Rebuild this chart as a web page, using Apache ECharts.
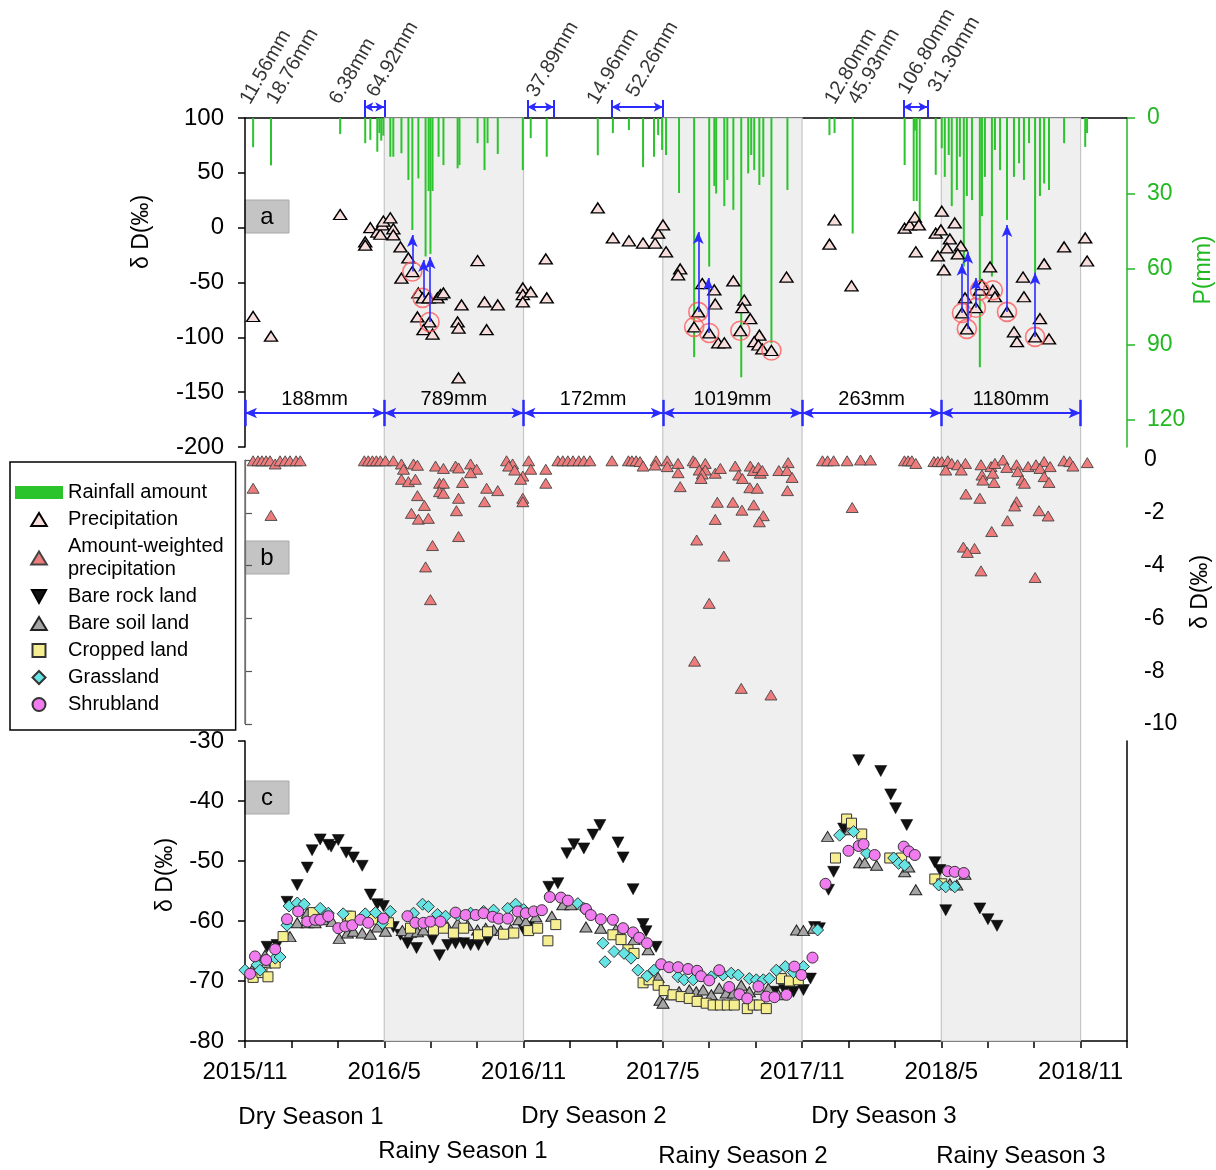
<!DOCTYPE html>
<html lang="en">
<head>
<meta charset="UTF-8">
<title>δD of rainfall and soil water</title>
<script src="https://cdn.jsdelivr.net/npm/echarts@6.0.0/dist/echarts.min.js"></script>
<style>
  html, body { margin: 0; padding: 0; background: #fff; }
  #main { width: 1216px; height: 1170px; }
</style>
</head>
<body>
<div id="main"></div>
<script type="text/javascript">
  // x values are months counted from 2015/11
  var tickLabels = ['2015/11', '2016/5', '2016/11', '2017/5', '2017/11', '2018/5', '2018/11'];
  var rainySeasons = [[6, 12], [18, 24], [30, 36]];
  var seasonBounds = [0, 6, 12, 18, 24, 30, 36];
  var seasonTotals = ['188mm', '789mm', '172mm', '1019mm', '263mm', '1180mm'];

  // daily rainfall [month, mm]
  var rainfall = [
    [0.35, 11.6], [1.12, 18.8], [4.10, 6.4], [5.18, 10], [5.40, 8.7], [5.70, 13.4], [5.79, 6], [5.87, 9], [5.96, 7],
    [6.26, 15.4], [6.39, 15.4], [6.74, 14], [7.04, 24.6], [7.21, 44.5], [7.47, 24], [7.78, 55], [7.91, 29], [7.99, 54],
    [8.08, 29], [8.34, 15.4], [8.55, 18.7], [9.16, 20], [9.24, 18.7], [10.02, 10], [10.32, 20.7], [10.45, 10], [10.89, 14.3],
    [11.97, 20.7], [12.31, 8], [13.0, 15.4], [15.2, 14.8], [15.85, 6], [16.54, 4.8], [17.15, 19.5], [17.62, 15.4],
    [17.80, 6.8], [17.97, 12.7], [18.14, 14.7], [18.70, 29.8], [19.35, 95], [20.0, 59], [20.22, 27], [20.30, 30],
    [20.65, 35], [20.78, 24.6], [21.04, 36.5], [21.38, 103], [21.68, 22], [21.81, 14.7], [21.94, 20.7], [22.16, 26.6],
    [22.33, 23.4], [22.68, 89.5], [23.37, 28.6], [25.18, 6.8], [25.40, 6], [26.18, 45.9], [28.42, 18.7], [28.81, 33],
    [28.86, 5], [28.94, 33], [29.07, 40.5], [29.76, 22.6], [30.02, 12], [30.15, 23.4], [30.32, 14.7], [30.45, 35],
    [30.67, 28.6], [30.80, 15.4], [30.97, 59], [31.10, 31], [31.32, 32.6], [31.66, 99], [31.75, 39], [31.88, 23.4],
    [32.18, 63], [32.31, 12.7], [32.53, 20.7], [32.83, 40.5], [33.13, 23.4], [33.35, 18], [33.56, 24.6], [33.78, 10],
    [34.04, 61.7], [34.25, 31], [34.43, 26], [34.64, 28.6], [35.29, 10], [36.20, 11.5], [36.28, 6]
  ];

  // δD of precipitation (panel a)
  var precipitation = [
    [0.35, -81], [1.12, -99], [4.10, 12], [5.18, -13], [5.18, -16], [5.40, 0], [5.70, -4], [5.83, -6], [5.92, 2.5],
    [5.96, 6], [6.26, 9], [6.39, -1], [6.39, -6.6], [6.70, -17.6], [7.04, -27.6], [7.21, -40], [6.74, -46], [7.47, -59.5],
    [7.65, -64], [7.91, -64], [8.29, -64], [8.42, -61], [8.55, -59.5], [7.43, -81.4], [7.95, -86], [7.69, -93], [8.08, -97],
    [9.33, -70.5], [9.16, -86], [9.20, -91.5], [10.02, -30], [10.32, -67.7], [10.89, -70.5], [10.41, -93], [9.20, -137],
    [11.97, -55], [11.97, -61], [11.97, -67.7], [12.31, -58.6], [12.96, -28.5], [13.0, -64], [15.2, 18], [15.85, -9.4],
    [16.54, -12], [17.15, -14], [17.67, -14], [17.80, -5], [18.01, 2.5], [18.14, -22], [18.75, -37.6], [18.66, -43],
    [19.53, -76.8], [19.35, -90.5], [19.70, -51], [20.22, -56.8], [20.26, -69.6], [20.0, -96], [20.39, -105], [20.65, -105],
    [21.04, -48.6], [21.51, -66], [21.43, -73], [21.77, -83], [21.34, -94], [22.16, -98], [21.94, -104], [22.12, -107],
    [22.29, -110.6], [22.68, -112], [23.33, -45], [25.40, 7], [25.18, -15], [26.13, -53], [28.42, -0.5], [28.64, 2.5],
    [28.86, 9.7], [29.03, 2.5], [28.90, -22], [30.02, 15], [30.58, 4.3], [29.76, -5], [29.98, -2], [30.37, -10.3],
    [30.24, -18.5], [30.84, -16.7], [30.71, -24], [29.85, -25.8], [30.11, -38.5], [32.10, -35.8], [31.02, -64],
    [30.89, -77.8], [31.10, -92.3], [31.49, -73], [31.66, -57], [31.75, -52], [32.22, -57], [32.31, -63], [32.83, -76.8],
    [33.52, -45], [33.56, -63], [34.43, -33], [34.25, -83], [33.13, -95], [33.26, -104], [34.04, -99.6], [34.64, -101.5],
    [35.29, -17.6], [36.20, -9.4], [36.28, -30.4]
  ];

  // precipitation samples that are circled
  var circled = [
    [7.21, -40], [7.65, -64], [7.95, -86], [19.53, -76.8], [19.35, -90.5], [20.0, -96], [21.34, -94], [22.68, -112],
    [30.89, -77.8], [31.10, -92.3], [31.49, -73], [31.66, -57], [32.22, -57], [32.83, -76.8], [34.04, -99.6]
  ];

  // arrows from a circled sample up to its rain event [month, from, to]
  var rainArrows = [
    [7.21, -40, -6.7], [7.69, -64, -29.5], [7.98, -86, -26.7], [19.53, -76.8, -4], [19.96, -96, -46],
    [30.89, -77.8, -33], [31.14, -92.3, -22], [31.49, -73, -46], [32.83, -76.8, 2.5], [34.04, -99.6, -41]
  ];

  // amount-weighted precipitation δD (panel b)
  var weighted = [
    [0.35, -0.03], [0.56, -0.03], [0.73, -0.03], [0.91, -0.03], [1.08, -0.03], [1.30, -0.15], [1.51, -0.03], [1.73, -0.03],
    [1.94, -0.03], [2.20, -0.03], [2.38, -0.03], [5.14, -0.03], [5.31, -0.03], [5.49, -0.03], [5.66, -0.03], [5.83, -0.03],
    [6.05, -0.03], [6.39, -0.03], [6.74, -0.15], [6.83, -0.35], [7.26, -0.15], [7.43, -0.2], [8.21, -0.23], [8.55, -0.32],
    [9.07, -0.23], [9.20, -0.3], [9.72, -0.15], [9.98, -0.35], [9.72, -0.48], [11.27, -0.03], [11.53, -0.15], [11.36, -0.23],
    [11.62, -0.38], [12.22, -0.03], [12.31, -0.35], [11.97, -0.61], [11.88, -0.73], [13.48, -0.03], [13.69, -0.03],
    [13.91, -0.03], [14.13, -0.03], [14.38, -0.03], [14.6, -0.03], [14.86, -0.03], [15.81, -0.03],
    [0.35, -1.07], [1.12, -2.1], [6.74, -0.73], [7.04, -0.82], [7.34, -0.73], [8.38, -0.88], [8.55, -0.88], [9.37, -0.85],
    [12.96, -0.35], [12.96, -0.88], [8.38, -1.2], [8.55, -1.26], [10.41, -1.07], [10.89, -1.16], [7.43, -1.35], [9.2, -1.45],
    [10.32, -1.58], [11.97, -1.45], [11.97, -1.58], [7.73, -1.72], [7.17, -2.02], [7.47, -2.24], [7.9, -2.21], [9.11, -1.92],
    [9.2, -2.9], [8.08, -3.24], [7.78, -4.05], [7.99, -5.29],
    [16.52, -0.03], [16.67, -0.03], [16.85, -0.03], [17.02, -0.06], [17.15, -0.23], [17.71, -0.03], [17.67, -0.19],
    [18.19, -0.03], [18.19, -0.25], [18.66, -0.13], [18.66, -0.48], [18.75, -1.01], [19.31, -0.03], [19.4, -0.1],
    [19.83, -0.13], [19.57, -0.38], [19.83, -0.38], [19.7, -0.53], [19.65, -0.7], [20.26, -0.5], [20.48, -0.32],
    [21.12, -0.23], [21.27, -0.57], [21.43, -0.7], [21.77, -0.23], [21.9, -0.4], [22.12, -0.28], [22.2, -0.5], [22.29, -0.4],
    [21.75, -1.05], [22.07, -1.07], [23.0, -0.4], [23.4, -0.1], [23.35, -0.4], [23.57, -0.66], [23.37, -1.16],
    [20.35, -1.6], [21.02, -1.6], [21.92, -1.7], [21.41, -1.9], [22.33, -2.11], [20.26, -2.25], [22.16, -2.34],
    [19.46, -3.03], [20.63, -3.64], [20.0, -5.43], [19.37, -7.62], [21.38, -8.65], [22.66, -8.9],
    [24.88, -0.03], [25.1, -0.03], [25.36, -0.03], [25.94, -0.03], [26.52, 0], [26.95, 0], [26.16, -1.8],
    [28.41, -0.03], [28.57, -0.03], [28.73, -0.03], [28.9, -0.13], [29.68, -0.06], [29.85, -0.06], [30.02, -0.06],
    [30.28, -0.03], [30.45, -0.13], [30.19, -0.38], [30.7, -0.18], [31.04, -0.13], [30.86, -0.38], [31.71, -0.18],
    [32.14, -0.25], [32.31, -0.13], [32.66, 0], [32.82, -0.28], [33.24, -0.18], [33.74, -0.25], [34.08, -0.18],
    [34.43, -0.06], [34.69, -0.25], [35.28, -0.03], [35.53, -0.06], [35.67, -0.23], [36.29, -0.1],
    [31.75, -0.57], [31.79, -0.76], [32.27, -0.85], [32.22, -0.5], [33.29, -0.44], [33.48, -0.76], [33.58, -0.88],
    [34.25, -0.32], [34.43, -0.63], [34.64, -0.85], [31.06, -1.29], [31.66, -1.45], [33.24, -1.58], [33.16, -1.74],
    [34.21, -1.92], [34.6, -2.12], [32.85, -2.3], [32.17, -2.71], [30.95, -3.3], [31.43, -3.35], [31.12, -3.5],
    [31.71, -4.2], [34.04, -4.45]
  ];

  // soil water δD by land use (panel c)
  var bareRock = [
    [0.95, -64.3], [1.38, -64], [1.81, -56.8], [2.25, -54], [2.68, -51.1], [2.89, -48.2], [3.24, -46.4], [3.59, -47.3],
    [3.71, -47.6], [4.02, -46.5], [4.36, -48.6], [4.67, -49.4], [5.05, -50.8], [5.40, -55.6], [5.70, -57.2], [5.96, -57.5],
    [6.39, -61], [6.70, -62.3], [7.0, -63.7], [7.39, -64.5], [8.08, -63.1], [8.38, -65.7], [8.73, -64], [9.07, -63.7],
    [9.42, -63.7], [9.72, -64], [10.06, -64], [10.45, -63.2], [12.01, -61.5], [12.22, -61], [13.09, -54.3], [13.48, -53.7],
    [13.87, -48.7], [14.17, -47.2], [14.6, -47.9], [14.99, -45.6], [15.29, -44], [16.07, -46.9], [16.29, -49.4],
    [16.72, -54.7], [17.15, -60.5], [17.28, -61.7], [17.71, -64.3], [22.81, -71.8], [23.24, -71.5], [23.63, -71.8],
    [24.06, -71.5], [24.36, -69.6], [24.54, -61], [24.75, -61.2], [25.14, -54.8], [25.36, -51.8], [25.79, -44.6],
    [26.44, -33.2], [27.39, -35], [27.82, -38.9], [28.03, -41.2], [28.51, -44], [29.72, -50.2], [29.94, -51.5],
    [30.19, -58.2], [31.66, -57.9], [32.01, -59.7], [32.4, -60.8]
  ];
  var bareSoil = [
    [0.30, -68.2], [0.86, -67], [0.86, -65.7], [1.38, -65.4], [1.94, -62.6], [2.25, -60.3], [2.68, -60.3], [2.68, -58.7],
    [3.02, -60.3], [3.37, -59.8], [3.76, -60.1], [4.06, -62.9], [4.41, -62], [4.67, -61.7], [5.05, -62], [5.40, -62.2],
    [5.70, -61], [6.05, -61.7], [6.78, -61.6], [7.13, -61.9], [7.43, -61.8], [7.69, -61.5], [8.12, -61], [8.42, -59.6],
    [8.73, -61], [9.16, -60.4], [9.59, -60.7], [10.02, -61.5], [10.37, -61.2], [10.71, -61.5], [11.02, -61.6],
    [11.45, -61.4], [11.79, -59.8], [12.1, -60.1], [12.53, -59.3], [13.22, -59.2], [13.69, -57.3], [14.04, -57.3],
    [14.69, -61], [15.33, -61.2], [15.98, -61.4], [16.76, -63.1], [17.37, -64.8], [17.80, -69.4], [17.88, -73.2],
    [18.01, -73.7], [18.36, -72.3], [18.7, -71.8], [19.14, -71.5], [19.44, -71.8], [19.74, -71.5], [20.09, -72.3],
    [20.43, -71.2], [20.73, -72], [21.04, -72], [21.38, -70.7], [21.73, -71.8], [22.16, -71.4], [22.55, -71.2],
    [22.98, -72.3], [23.76, -61.5], [24.06, -61.6], [24.49, -61.2], [25.1, -45.9], [26.05, -44.8], [26.48, -50.3],
    [26.7, -50.3], [27.21, -50.7], [28.42, -51.8], [28.6, -51], [28.9, -54.8], [30.37, -53.8], [30.67, -54], [31.02, -52.2]
  ];
  var cropped = [
    [0.35, -69.4], [0.73, -68.6], [0.99, -69.3], [1.30, -67], [1.64, -62.6], [2.94, -58.6], [4.41, -59.2], [4.54, -59.2],
    [5.49, -59.7], [6.18, -60.3], [7.13, -61.2], [8.12, -61.5], [8.55, -61.2], [8.98, -62], [9.42, -61.2], [10.06, -62.3],
    [10.45, -61.8], [11.14, -62.2], [11.58, -62], [12.22, -61.6], [12.61, -61.2], [13.05, -63.3], [13.39, -60.6],
    [15.85, -62.3], [16.2, -63.1], [16.5, -64.8], [16.76, -65.4], [17.15, -70.3], [17.41, -69.8], [17.80, -70.7],
    [18.06, -71.6], [18.44, -72.3], [18.79, -72.6], [19.14, -72.9], [19.48, -73.4], [19.87, -73.7], [20.17, -74],
    [20.48, -74], [20.78, -74], [21.08, -74], [21.64, -74.6], [21.9, -74], [22.16, -74], [22.46, -74.6], [23.11, -69.6],
    [23.46, -70], [23.84, -69.8], [25.44, -49.5], [25.92, -43], [26.13, -43.7], [26.57, -45.5], [27.78, -49.5],
    [28.29, -49.5], [29.72, -53], [30.02, -53.8]
  ];
  var grassland = [
    [0, -68.2], [0.52, -67.3], [0.65, -68.2], [1.30, -66.2], [1.51, -66], [1.81, -60.7], [1.9, -57.5], [2.25, -57],
    [2.55, -57.2], [3.24, -57.9], [3.59, -58.7], [4.23, -58.8], [5.18, -58.8], [5.62, -58.6], [5.92, -60.4], [6.26, -58.4],
    [7.26, -58.7], [7.65, -57.2], [7.9, -57.6], [8.29, -58.9], [8.64, -59.2], [9.16, -59], [9.72, -58.7], [10.28, -58.4],
    [10.71, -58.2], [11.32, -57.9], [11.66, -57.2], [12.01, -58.1], [14.34, -57.1], [14.6, -57.9], [15.42, -63.7],
    [15.51, -66.8], [15.9, -65.1], [16.33, -65.4], [16.63, -66.2], [16.93, -68.2], [17.32, -69.2], [17.62, -68.2],
    [18.66, -69.3], [18.92, -69.8], [19.31, -69.8], [20.09, -69.3], [20.6, -69], [20.95, -68.7], [21.25, -69],
    [21.73, -69.6], [22.03, -69.8], [22.33, -69.8], [22.59, -69.6], [22.89, -68.2], [23.28, -67.6], [23.63, -68.6],
    [24.06, -67.6], [24.67, -61.5], [25.62, -45.7], [26.22, -45.1], [26.78, -48.7], [27.95, -49.5], [28.16, -50.4],
    [28.42, -50.7], [29.89, -54], [30.19, -54.3], [30.58, -54.3]
  ];
  var shrubland = [
    [0.22, -68.8], [0.43, -65.9], [0.91, -66.5], [1.30, -64.7], [1.81, -59.7], [2.29, -58.4], [2.68, -60.1], [3.02, -59.8],
    [3.24, -59.8], [3.59, -59.2], [4.02, -61.2], [4.32, -60.9], [4.62, -60.7], [4.97, -59.8], [5.31, -60.3], [5.96, -59.6],
    [7.0, -59.2], [7.34, -60.3], [7.69, -60.3], [7.99, -60.1], [8.42, -60.1], [9.07, -58.6], [9.5, -59], [9.94, -59],
    [10.28, -58.7], [10.67, -59.3], [10.93, -59.6], [11.32, -59.6], [11.75, -58.4], [12.1, -58.7], [12.44, -58.4],
    [12.79, -58.2], [13.13, -56], [13.61, -56.1], [13.91, -56.6], [14.69, -58], [14.9, -59], [15.33, -59.7], [15.85, -59.8],
    [16.29, -61.2], [16.72, -61.9], [16.98, -62.8], [17.32, -63.7], [17.93, -67.2], [18.27, -67.7], [18.66, -67.7],
    [19.09, -68], [19.48, -68.3], [19.65, -69.2], [20.0, -69.9], [20.43, -68.2], [20.86, -71], [21.3, -72.2], [21.64, -72.9],
    [22.12, -70.9], [22.46, -72.6], [22.81, -72.7], [23.33, -72.3], [23.67, -67.6], [23.97, -69], [24.45, -66.1],
    [25.01, -53.8], [26.0, -48.3], [26.44, -47.5], [26.65, -47.2], [27.13, -49], [28.38, -47.6], [28.6, -48.4],
    [28.86, -49], [30.28, -51.7], [30.58, -51.8], [30.97, -52]
  ];

  // single rain events written above panel a [text, month, height above the panel]
  var eventLabels = [
    ['11.56mm', 0.4, 10], ['18.76mm', 1.55, 10], ['6.38mm', 4.25, 10], ['64.92mm', 5.85, 17], ['37.89mm', 12.75, 17],
    ['14.96mm', 15.35, 10], ['52.26mm', 17.05, 17], ['12.80mm', 25.6, 10], ['45.93mm', 26.6, 10],
    ['106.80mm', 28.75, 20], ['31.30mm', 30.05, 22]
  ];
  // multi-day events marked with a bracket [start, end]
  var eventSpans = [[5.14, 6.0], [12.17, 13.3], [15.8, 18.0], [28.36, 29.4]];

  var FONT = 'Liberation Sans, Arial, sans-serif';
  var BLUE = '#2b2bff';
  var GREEN = '#22b822';
  // symbol shapes (paths keep their proportions in the legend)
  var upTri = 'path://M6,0 L12,10 L0,10 Z';
  var downTri = 'path://M0,0 L12,0 L6,11 Z';
  var square = 'path://M0,0 L10,0 L10,10 L0,10 Z';
  var diamond = 'path://M6,0 L12,6 L6,12 L0,6 Z';

  var chartDom = document.getElementById('main');
  var myChart = echarts.init(chartDom);

  function hiddenX(i) {
    return { type: 'value', gridIndex: i, min: 0, max: 38, show: false };
  }

  function text(x, y, str, size, color, rot) {
    return {
      type: 'text', x: x, y: y, rotation: rot || 0,
      style: { text: str, font: size + 'px ' + FONT, fill: color || '#000', align: 'center', verticalAlign: 'middle' }
    };
  }

  var option = {
    animation: false,
    backgroundColor: '#fff',
    textStyle: { fontFamily: FONT },
    grid: [
      { left: 245, right: 89, top: 118, height: 329 },
      { left: 245, right: 89, top: 460, height: 264 },
      { left: 245, right: 89, top: 741, height: 300 },
      { left: 245, right: 89, top: 0, height: 118 },
      { left: 245, right: 89, top: 118, height: 923 }
    ],
    xAxis: [
      {
        type: 'value', gridIndex: 0, min: 0, max: 38, position: 'top',
        axisLine: { show: true, onZero: false, lineStyle: { color: '#000', width: 1.5 } },
        axisTick: { show: false }, axisLabel: { show: false }, splitLine: { show: false }
      },
      hiddenX(1),
      {
        type: 'value', gridIndex: 2, min: 0, max: 38, interval: 2,
        axisLine: { onZero: false, lineStyle: { color: '#000', width: 1.5 } },
        axisTick: { show: true, length: 7, lineStyle: { color: '#000', width: 1.5 } },
        axisLabel: {
          fontSize: 24, color: '#000', margin: 19,
          formatter: function (v) { return v % 6 === 0 && tickLabels[v / 6] ? tickLabels[v / 6] : ''; }
        },
        splitLine: { show: false }
      },
      hiddenX(3),
      hiddenX(4)
    ],
    yAxis: [
      {
        type: 'value', gridIndex: 0, min: -200, max: 100, interval: 50,
        axisLine: { show: true, lineStyle: { color: '#000', width: 1.5 } },
        axisTick: { show: true, length: 7, lineStyle: { color: '#000', width: 1.5 } },
        axisLabel: { fontSize: 24, color: '#000', margin: 21 },
        splitLine: { show: false }
      },
      {
        type: 'value', gridIndex: 0, position: 'right', inverse: true, min: 0, max: 130.7, interval: 30,
        axisLine: { show: true, lineStyle: { color: GREEN, width: 1.5 } },
        axisTick: { show: true, length: 8, lineStyle: { color: GREEN, width: 1.5 } },
        axisLabel: { fontSize: 23, color: GREEN, margin: 20, showMaxLabel: false },
        splitLine: { show: false }
      },
      {
        type: 'value', gridIndex: 1, position: 'right', min: -10, max: 0, interval: 2,
        axisLine: { show: true, lineStyle: { color: '#555', width: 1.2 } },
        axisTick: { show: true, length: 7, lineStyle: { color: '#555', width: 1.2 } },
        axisLabel: { fontSize: 23, color: '#000', margin: 17 },
        splitLine: { show: false }
      },
      { type: 'value', gridIndex: 1, position: 'left', min: -10, max: 0, show: false },
      {
        type: 'value', gridIndex: 2, min: -80, max: -30, interval: 10,
        axisLine: { show: true, lineStyle: { color: '#000', width: 1.5 } },
        axisTick: { show: true, length: 7, lineStyle: { color: '#000', width: 1.5 } },
        axisLabel: { fontSize: 24, color: '#000', margin: 21 },
        splitLine: { show: false }
      },
      {
        type: 'value', gridIndex: 2, position: 'right', min: -80, max: -30,
        axisLine: { show: true, lineStyle: { color: '#000', width: 1.5 } },
        axisTick: { show: false }, axisLabel: { show: false }, splitLine: { show: false }
      },
      { type: 'value', gridIndex: 3, min: 0, max: 118, show: false },
      { type: 'value', gridIndex: 4, min: 0, max: 1, show: false }
    ],
    legend: {
      orient: 'vertical', left: 10, top: 462,
      padding: [19, 12, 14, 5],
      itemWidth: 48, itemHeight: 13, itemGap: 4,
      borderColor: '#000', borderWidth: 1.5,
      selectedMode: false,
      textStyle: { fontSize: 20, color: '#000', lineHeight: 23, fontFamily: FONT },
      formatter: function (name) {
        return name === 'Amount-weighted precipitation' ? 'Amount-weighted\nprecipitation' : name;
      },
      data: [
        { name: 'Rainfall amount', icon: 'rect' },
        { name: 'Precipitation', icon: upTri },
        { name: 'Amount-weighted precipitation', icon: upTri },
        { name: 'Bare rock land', icon: downTri },
        { name: 'Bare soil land', icon: upTri },
        { name: 'Cropped land', icon: square },
        { name: 'Grassland', icon: diamond },
        { name: 'Shrubland', icon: 'circle' }
      ]
    },
    graphic: [
      // panel tags
      { type: 'rect', shape: { x: 245, y: 200, width: 44, height: 33 }, style: { fill: '#c4c4c4', stroke: '#a8a8a8' } },
      text(267, 217, 'a', 24),
      { type: 'rect', shape: { x: 245, y: 541, width: 44, height: 33 }, style: { fill: '#c4c4c4', stroke: '#a8a8a8' } },
      text(267, 558, 'b', 24),
      { type: 'rect', shape: { x: 245, y: 781, width: 44, height: 33 }, style: { fill: '#c4c4c4', stroke: '#a8a8a8' } },
      text(267, 798, 'c', 24),
      // axis titles
      text(142, 232, 'δ D(‰)', 23, '#000', Math.PI / 2),
      text(1204, 270, 'P(mm)', 23, GREEN, Math.PI / 2),
      text(1201, 592, 'δ D(‰)', 23, '#000', Math.PI / 2),
      text(166, 875, 'δ D(‰)', 23, '#000', Math.PI / 2),
      // season names
      text(311, 1117, 'Dry Season 1', 24),
      text(463, 1151, 'Rainy Season 1', 24),
      text(594, 1116, 'Dry Season 2', 24),
      text(743, 1156, 'Rainy Season 2', 24),
      text(884, 1116, 'Dry Season 3', 24),
      text(1021, 1156, 'Rainy Season 3', 24)
    ],
    series: [
      // rainy season shading behind all panels
      {
        type: 'scatter', xAxisIndex: 4, yAxisIndex: 7, data: [[0, 0]], symbolSize: 0, silent: true, z: 0,
        markArea: {
          silent: true,
          itemStyle: { color: '#efefef', borderColor: '#c6c6c6', borderWidth: 1.2 },
          data: rainySeasons.map(function (s) { return [{ xAxis: s[0] }, { xAxis: s[1] }]; })
        }
      },
      {
        name: 'Rainfall amount', type: 'bar', xAxisIndex: 0, yAxisIndex: 1,
        data: rainfall, barWidth: 2, itemStyle: { color: '#2cc42c' }, z: 2
      },
      {
        name: 'Precipitation', type: 'scatter', xAxisIndex: 0, yAxisIndex: 0, data: precipitation,
        symbol: upTri, symbolSize: [13, 10], z: 3,
        itemStyle: { color: '#f7dcdc', borderColor: '#000', borderWidth: 1.4, opacity: 1 }
      },
      {
        name: 'circled', type: 'scatter', xAxisIndex: 0, yAxisIndex: 0, data: circled,
        symbol: 'circle', symbolSize: 19, z: 4,
        itemStyle: { color: 'rgba(0,0,0,0)', borderColor: '#ff5a5a', borderWidth: 1.6 },
        markLine: {
          silent: true, symbol: ['none', 'arrow'], symbolSize: [8, 12], precision: 2,
          label: { show: false },
          lineStyle: { color: BLUE, width: 1.6, type: 'solid' },
          data: rainArrows.map(function (a) { return [{ coord: [a[0], a[1]] }, { coord: [a[0], a[2]] }]; })
        }
      },
      // seasonal totals in panel a
      {
        type: 'scatter', xAxisIndex: 0, yAxisIndex: 0, data: [], z: 4,
        markLine: {
          silent: true, symbol: ['arrow', 'arrow'], symbolSize: [8, 12], precision: 2,
          lineStyle: { color: BLUE, width: 2, type: 'solid' },
          label: { show: true, position: 'middle', formatter: '{b}', fontSize: 20, color: '#000', distance: 4, fontFamily: FONT },
          data: seasonTotals.map(function (t, i) {
            return [{ name: t, coord: [seasonBounds[i], -169] }, { coord: [seasonBounds[i + 1], -169] }];
          })
        }
      },
      {
        type: 'scatter', xAxisIndex: 0, yAxisIndex: 0, data: [], z: 4,
        markLine: {
          silent: true, symbol: ['none', 'none'], precision: 2,
          lineStyle: { color: BLUE, width: 2.5, type: 'solid' },
          label: { show: false },
          data: seasonBounds.map(function (b) { return [{ coord: [b, -157] }, { coord: [b, -181] }]; })
        }
      },
      {
        name: 'Amount-weighted precipitation', type: 'scatter', xAxisIndex: 1, yAxisIndex: 2, data: weighted,
        symbol: upTri, symbolSize: [12, 10], z: 3,
        itemStyle: { color: '#ee7c7c', borderColor: '#444', borderWidth: 0.9, opacity: 1 },
        // plain left frame line of panel b
        markLine: {
          silent: true, symbol: ['none', 'none'], precision: 2,
          lineStyle: { color: '#777', width: 1.5, type: 'solid' },
          label: { show: false },
          data: [[{ coord: [0, 0] }, { coord: [0, -10] }]]
        }
      },
      {
        name: 'Bare rock land', type: 'scatter', xAxisIndex: 2, yAxisIndex: 4, data: bareRock,
        symbol: downTri, symbolSize: [12, 11], z: 3,
        itemStyle: { color: '#111', borderColor: '#000', borderWidth: 0.5, opacity: 1 }
      },
      {
        name: 'Bare soil land', type: 'scatter', xAxisIndex: 2, yAxisIndex: 4, data: bareSoil,
        symbol: upTri, symbolSize: [12, 10], z: 3,
        itemStyle: { color: '#a5a5a5', borderColor: '#222', borderWidth: 1, opacity: 1 }
      },
      {
        name: 'Cropped land', type: 'scatter', xAxisIndex: 2, yAxisIndex: 4, data: cropped,
        symbol: square, symbolSize: 10, z: 3,
        itemStyle: { color: '#f6ef92', borderColor: '#333', borderWidth: 1, opacity: 1 }
      },
      {
        name: 'Grassland', type: 'scatter', xAxisIndex: 2, yAxisIndex: 4, data: grassland,
        symbol: diamond, symbolSize: 12, z: 3,
        itemStyle: { color: '#66e3e3', borderColor: '#333', borderWidth: 1, opacity: 1 }
      },
      {
        name: 'Shrubland', type: 'scatter', xAxisIndex: 2, yAxisIndex: 4, data: shrubland,
        symbol: 'circle', symbolSize: 11, z: 3,
        itemStyle: { color: '#f07cf0', borderColor: '#333', borderWidth: 1, opacity: 1 }
      },
      // rain event labels above panel a
      {
        type: 'scatter', xAxisIndex: 3, yAxisIndex: 6, clip: false, symbolSize: 1, silent: true,
        itemStyle: { color: 'rgba(0,0,0,0)' },
        data: eventLabels.map(function (e) { return { value: [e[1], e[2]], name: e[0] }; }),
        label: {
          show: true, position: [0, 0], align: 'left', verticalAlign: 'bottom', rotate: 60,
          formatter: '{b}', fontSize: 20, color: '#000', fontFamily: FONT
        },
        markLine: {
          silent: true, symbol: ['arrow', 'arrow'], symbolSize: [7, 9], precision: 2,
          lineStyle: { color: BLUE, width: 2, type: 'solid' },
          label: { show: false },
          data: eventSpans.map(function (s) { return [{ coord: [s[0], 11] }, { coord: [s[1], 11] }]; })
        }
      },
      {
        type: 'scatter', xAxisIndex: 3, yAxisIndex: 6, data: [], clip: false,
        markLine: {
          silent: true, symbol: ['none', 'none'], precision: 2,
          lineStyle: { color: BLUE, width: 2, type: 'solid' },
          label: { show: false },
          data: eventSpans.reduce(function (acc, s) {
            acc.push([{ coord: [s[0], 18] }, { coord: [s[0], 1] }]);
            acc.push([{ coord: [s[1], 18] }, { coord: [s[1], 1] }]);
            return acc;
          }, [])
        }
      }
    ]
  };

  option && myChart.setOption(option);
</script>
</body>
</html>
